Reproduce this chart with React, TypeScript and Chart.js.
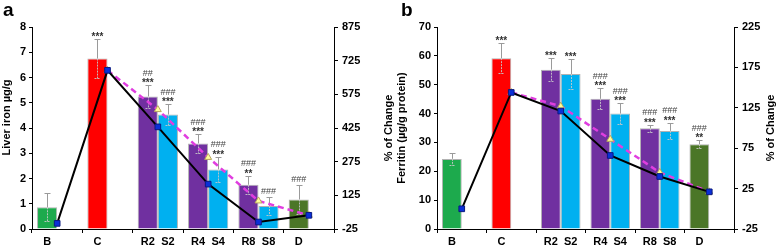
import React, { useEffect, useRef } from 'react';
import { Chart, registerables } from 'chart.js';

Chart.register(...registerables);

const FONT = '"Liberation Sans", Arial, Helvetica, sans-serif';

// ---- shared categories ----
const groups = ['B', 'C', 'R2 S2', 'R4 S4', 'R8 S8', 'D'];
const slot1Labels: (string | null)[] = ['B', 'C', 'R2', 'R4', 'R8', 'D'];
const slot2Labels: (string | null)[] = [null, null, 'S2', 'S4', 'S8', null];
const slot1Colors = ['#1daa4d', '#ff0000', '#7030a0', '#7030a0', '#7030a0', '#4b7627'];
const slot2Colors = ['#00b0f0', '#00b0f0', '#00b0f0', '#00b0f0', '#00b0f0', '#00b0f0'];

// ---- panel a: liver iron ----
const aSlot1: (number | null)[] = [0.86, 6.75, 5.25, 3.39, 1.75, 1.17];
const aErr1: (number | null)[] = [0.55, 0.78, 0.45, 0.37, 0.35, 0.58];
const aSlot2: (number | null)[] = [null, null, 4.53, 2.36, 0.91, null];
const aErr2: (number | null)[] = [null, null, 0.42, 0.5, 0.37, null];
const aBlack: (number | null)[] = [0, 682, 430, 175, 6, 36];
const aMagenta: (number | null)[] = [null, 682, 507, 294, 100, 36];
const aNote1 = ['', '***', '##\n***', '###\n***', '###\n**', '###'];
const aNote2 = ['', '', '###\n***', '###\n***', '###', ''];

// ---- panel b: ferritin ----
const bSlot1: (number | null)[] = [24.3, 59.2, 55.2, 45.1, 34.9, 29.4];
const bErr1: (number | null)[] = [2.0, 5.2, 3.9, 3.6, 1.3, 1.4];
const bSlot2: (number | null)[] = [null, null, 53.7, 40.0, 34.0, null];
const bErr2: (number | null)[] = [null, null, 5.3, 3.6, 2.9, null];
const bBlack: (number | null)[] = [0, 144, 121, 66, 40, 21];
const bMagenta: (number | null)[] = [null, 144, 127, 86, 45, 21];
const bNote1 = ['', '***', '***', '###\n***', '###\n***', '###\n**'];
const bNote2 = ['', '', '***', '###\n***', '###\n***', ''];

type SideTitle = { text: string; x: number; y: number };

type Panel = {
  slot1: (number | null)[];
  err1: (number | null)[];
  slot2: (number | null)[];
  err2: (number | null)[];
  black: (number | null)[];
  magenta: (number | null)[];
  note1: string[];
  note2: string[];
  leftMin: number;
  leftMax: number;
  leftStep: number;
  rightMin: number;
  rightMax: number;
  rightStep: number;
  leftTitle: string | string[] | null;
  leftTitlePad: number;
  sideTitles: SideTitle[];
  leftWidth: number;
  rightWidth: number;
};

function makePlugin(p: Panel) {
  return {
    id: 'extras',
    afterDatasetDraw(chart: any, args: any) {
      const i = args.index;
      if (i > 1) return;
      const vals = i === 0 ? p.slot1 : p.slot2;
      const errs = i === 0 ? p.err1 : p.err2;
      const meta = chart.getDatasetMeta(i);
      const ys = chart.scales.y;
      const ctx = chart.ctx;
      ctx.save();
      meta.data.forEach((el: any, j: number) => {
        const v = vals[j];
        const e = errs[j];
        if (v == null || e == null) return;
        const x = Math.round(el.x) + 0.5;
        const yTop = Math.round(ys.getPixelForValue(v + e)) + 0.5;
        const yMid = ys.getPixelForValue(v);
        const yBot = Math.round(ys.getPixelForValue(v - e)) + 0.5;
        ctx.lineWidth = 1;
        ctx.strokeStyle = '#9a9a9a';
        ctx.beginPath();
        ctx.moveTo(x, yMid);
        ctx.lineTo(x, yTop);
        ctx.moveTo(x - 3, yTop);
        ctx.lineTo(x + 3, yTop);
        ctx.stroke();
        ctx.setLineDash([2, 1]);
        ctx.strokeStyle = 'rgba(200,200,200,0.9)';
        ctx.beginPath();
        ctx.moveTo(x, yMid);
        ctx.lineTo(x, yBot);
        ctx.moveTo(x - 3, yBot);
        ctx.lineTo(x + 3, yBot);
        ctx.stroke();
        ctx.setLineDash([]);
      });
      ctx.restore();
    },
    afterDraw(chart: any) {
      const ctx = chart.ctx;
      const ys = chart.scales.y;
      const bottom = chart.chartArea.bottom;
      ctx.save();
      // category labels under each bar slot
      ctx.font = `bold 11px ${FONT}`;
      ctx.fillStyle = '#000';
      ctx.textAlign = 'center';
      ctx.textBaseline = 'middle';
      [slot1Labels, slot2Labels].forEach((labs, i) => {
        const meta = chart.getDatasetMeta(i);
        labs.forEach((l, j) => {
          if (!l) return;
          ctx.fillText(l, meta.data[j].x, bottom + 12.5);
        });
      });
      // rotated side titles
      p.sideTitles.forEach((t) => {
        ctx.save();
        ctx.translate(t.x, t.y);
        ctx.rotate(-Math.PI / 2);
        ctx.font = `bold 11px ${FONT}`;
        ctx.fillStyle = '#000';
        ctx.textAlign = 'center';
        ctx.textBaseline = 'middle';
        ctx.fillText(t.text, 0, 0);
        ctx.restore();
      });
      // significance marks
      ctx.textAlign = 'center';
      ctx.textBaseline = 'alphabetic';
      [[p.note1, p.slot1, p.err1], [p.note2, p.slot2, p.err2]].forEach((arr: any, i) => {
        const [notes, vals, errs] = arr;
        const meta = chart.getDatasetMeta(i);
        notes.forEach((n: string, j: number) => {
          if (!n || vals[j] == null) return;
          const cap = ys.getPixelForValue(vals[j] + (errs[j] || 0));
          const lines = n.split('\n');
          const x = meta.data[j].x;
          let base: number | null = null;
          for (let k = lines.length - 1; k >= 0; k--) {
            const t = lines[k];
            const isStar = t[0] === '*';
            if (base === null) base = isStar ? cap + 1 : cap - 3;
            else base -= 10.5;
            ctx.font = isStar ? `bold 10px ${FONT}` : `9px ${FONT}`;
            ctx.fillStyle = isStar ? '#333' : '#444';
            ctx.fillText(t, x, base);
          }
        });
      });
      ctx.restore();
    },
  };
}

function makeConfig(p: Panel): any {
  const tickFont = { family: FONT, size: 11, weight: 'bold' as const };
  return {
    type: 'bar',
    data: {
      labels: groups,
      datasets: [
        {
          type: 'bar',
          data: p.slot1,
          backgroundColor: slot1Colors,
          borderColor: 'rgba(0,0,0,0.3)',
          borderWidth: 1,
          categoryPercentage: 0.8,
          barPercentage: 1,
          yAxisID: 'y',
          order: 2,
        },
        {
          type: 'bar',
          data: p.slot2,
          backgroundColor: slot2Colors,
          borderColor: 'rgba(0,0,0,0.3)',
          borderWidth: 1,
          categoryPercentage: 0.8,
          barPercentage: 1,
          yAxisID: 'y',
          order: 2,
        },
        {
          type: 'line',
          data: p.magenta,
          borderColor: '#e03ee0',
          borderWidth: 2.5,
          borderDash: [6, 4],
          pointStyle: 'triangle',
          pointRadius: 4,
          pointBackgroundColor: '#ffff99',
          pointBorderColor: '#b8a860',
          pointBorderWidth: 1,
          yAxisID: 'y1',
          order: 1,
          tension: 0,
        },
        {
          type: 'line',
          data: p.black,
          borderColor: '#000',
          borderWidth: 2,
          pointStyle: 'rect',
          pointRadius: 4,
          pointBackgroundColor: '#0a30d8',
          pointBorderColor: '#0a1a80',
          pointBorderWidth: 1,
          yAxisID: 'y1',
          order: 0,
          tension: 0,
        },
      ],
    },
    options: {
      responsive: false,
      maintainAspectRatio: false,
      animation: false,
      devicePixelRatio: 1,
      layout: { padding: { top: 27, left: 0, right: 0, bottom: 0 } },
      plugins: {
        legend: { display: false },
        tooltip: { enabled: false },
      },
      scales: {
        x: {
          type: 'category',
          offset: true,
          ticks: { display: false },
          grid: {
            offset: true,
            drawOnChartArea: false,
            drawTicks: true,
            tickLength: 4,
            color: '#000',
          },
          border: { display: true, color: '#000', width: 1 },
          afterFit: (s: any) => {
            s.height = 18;
          },
        },
        y: {
          position: 'left',
          min: p.leftMin,
          max: p.leftMax,
          ticks: { stepSize: p.leftStep, font: tickFont, color: '#000', padding: 3 },
          grid: { drawOnChartArea: false, tickLength: 3, color: '#000' },
          border: { display: true, color: '#000', width: 1 },
          title: {
            display: !!p.leftTitle,
            text: p.leftTitle || '',
            font: tickFont,
            color: '#000',
            padding: { top: p.leftTitlePad, bottom: 0 },
          },
          afterFit: (s: any) => {
            s.width = p.leftWidth;
          },
        },
        y1: {
          position: 'right',
          min: p.rightMin,
          max: p.rightMax,
          ticks: { stepSize: p.rightStep, font: tickFont, color: '#000', padding: 4 },
          grid: { drawOnChartArea: false, tickLength: 4, color: '#000' },
          border: { display: true, color: '#000', width: 1 },
          afterFit: (s: any) => {
            s.width = p.rightWidth;
          },
        },
      },
    },
    plugins: [makePlugin(p)],
  };
}

const panelA: Panel = {
  slot1: aSlot1,
  err1: aErr1,
  slot2: aSlot2,
  err2: aErr2,
  black: aBlack,
  magenta: aMagenta,
  note1: aNote1,
  note2: aNote2,
  leftMin: 0,
  leftMax: 8,
  leftStep: 1,
  rightMin: -25,
  rightMax: 875,
  rightStep: 150,
  leftTitle: null,
  leftTitlePad: 0,
  sideTitles: [{ text: 'Liver iron µg/g', x: 6.5, y: 117.5 }],
  leftWidth: 32,
  rightWidth: 44,
};

const panelB: Panel = {
  slot1: bSlot1,
  err1: bErr1,
  slot2: bSlot2,
  err2: bErr2,
  black: bBlack,
  magenta: bMagenta,
  note1: bNote1,
  note2: bNote2,
  leftMin: 0,
  leftMax: 70,
  leftStep: 10,
  rightMin: -25,
  rightMax: 225,
  rightStep: 50,
  leftTitle: ['% of Change', 'Ferritin (µg/g protein)'],
  leftTitlePad: 4,
  sideTitles: [{ text: '% of Change', x: 393, y: 128 }],
  leftWidth: 59,
  rightWidth: 44,
};

function ChartPanel({ panel, width }: { panel: Panel; width: number }) {
  const ref = useRef<HTMLCanvasElement>(null);
  useEffect(() => {
    const chart = new Chart(ref.current as HTMLCanvasElement, makeConfig(panel));
    return () => chart.destroy();
  }, [panel]);
  return (
    <canvas
      ref={ref}
      width={width}
      height={247}
      style={{ display: 'block', width, height: 247 }}
    />
  );
}

const letterStyle: React.CSSProperties = {
  position: 'absolute',
  top: 0,
  font: `bold 19px ${FONT}`,
  lineHeight: '19px',
  color: '#000',
};

export default function App() {
  return (
    <div
      style={{
        position: 'absolute',
        left: 0,
        top: 0,
        width: 778,
        height: 247,
        background: '#fff',
        overflow: 'hidden',
      }}
    >
      <div style={{ position: 'absolute', left: 0, top: 0 }}>
        <ChartPanel panel={panelA} width={378} />
      </div>
      <div style={{ position: 'absolute', left: 378, top: 0 }}>
        <ChartPanel panel={panelB} width={400} />
      </div>
      <div style={{ ...letterStyle, left: 3 }}>a</div>
      <div style={{ ...letterStyle, left: 401 }}>b</div>
    </div>
  );
}
